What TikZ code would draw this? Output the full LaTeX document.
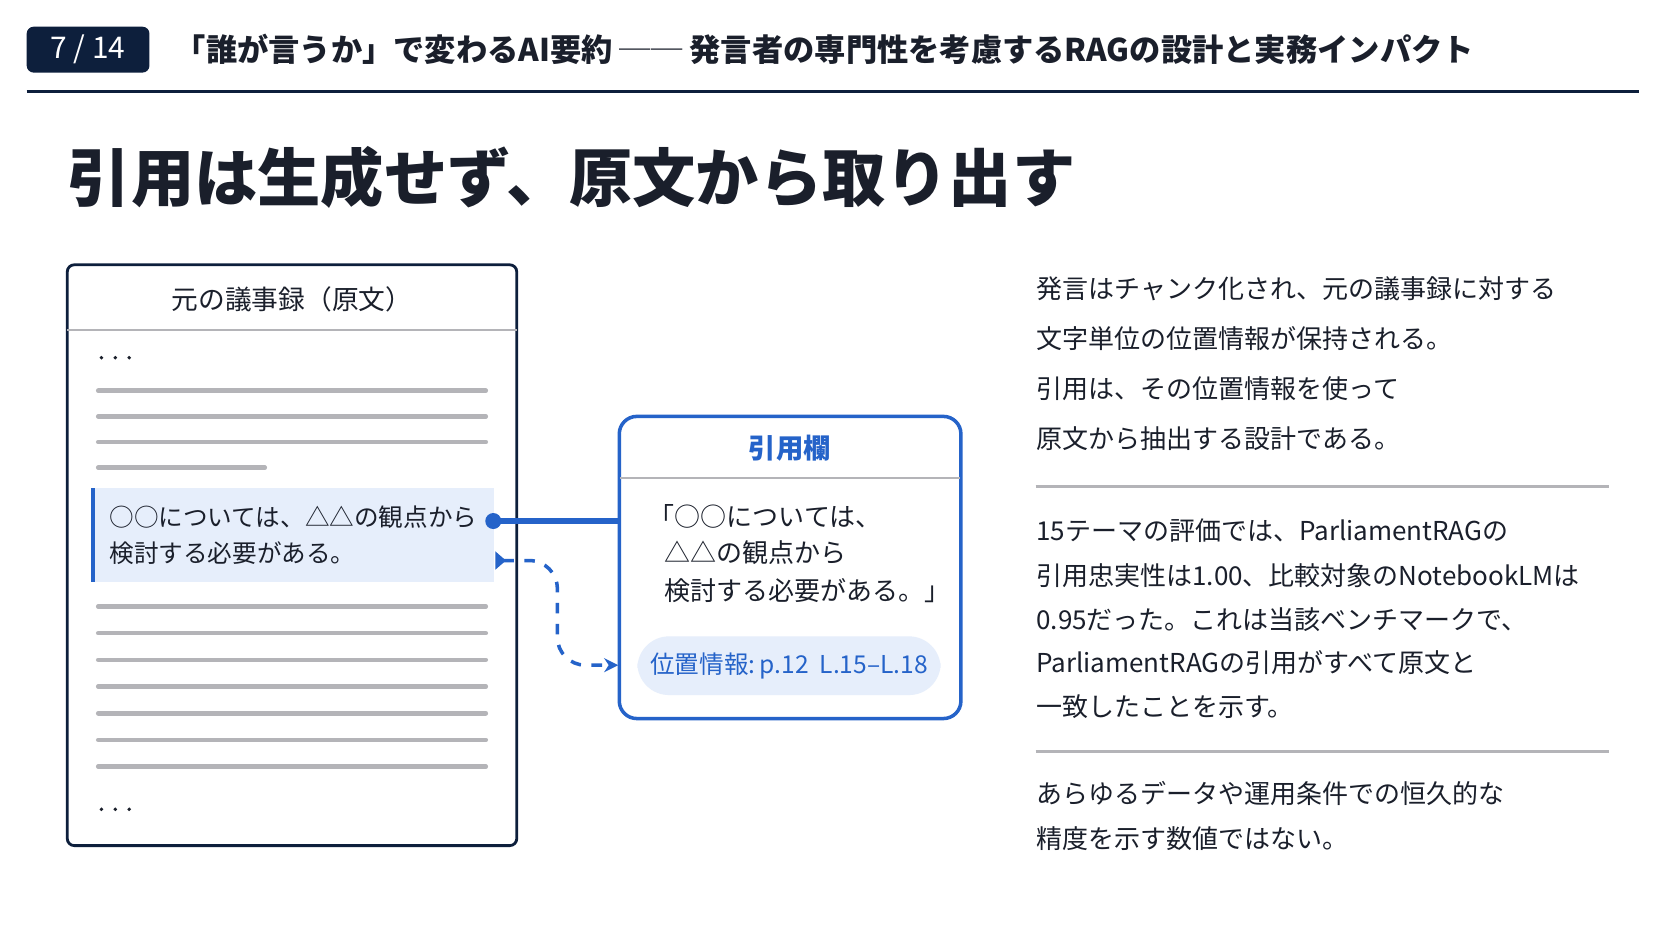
\documentclass[tikz,border=0pt]{standalone}
\usepackage{fontspec}
\setmainfont{Noto Sans CJK JP}
\usetikzlibrary{arrows.meta}
\definecolor{navy}{HTML}{0D1F3C}
\definecolor{blu}{HTML}{2563C9}
\definecolor{lblu}{HTML}{E6EEFB}
\definecolor{gr}{HTML}{B4B4B8}
\definecolor{txt}{HTML}{1A1F2B}
\begin{document}
\begin{tikzpicture}[x=0.010677cm,y=-0.010677cm,
  body/.style={anchor=west,inner sep=0,font=\fontsize{7.4pt}{9pt}\selectfont,text=txt},
  gl/.style={gr,line width=1.3pt,line cap=round}]
\useasboundingbox[fill=white] (0,0) rectangle (1566,881);
% header
\fill[navy,rounded corners=2pt] (25,25) rectangle (140,68);
\node[inner sep=0,text=white,font=\fontsize{8.5pt}{10pt}\selectfont] (badge) at (82.5,46.5) {7 / 14};
\node[anchor=west,inner sep=0,font=\fontsize{8.9pt}{10pt}\selectfont\bfseries,text=txt] (hdr) at (163,46) {「誰が言うか」で変わるAI要約 ── 発言者の専門性を考慮するRAGの設計と実務インパクト};
\draw[navy,line width=0.8pt] (25,86) -- (1535,86);
\node[anchor=west,inner sep=0,font=\fontsize{18pt}{20pt}\selectfont\bfseries,text=txt] (ttl) at (63,166) {引用は生成せず、原文から取り出す};
% document box
\draw[navy,line width=0.8pt,rounded corners=2pt] (63,248) rectangle (484,792);
\node[font=\fontsize{7.6pt}{9pt}\selectfont,text=txt,inner sep=0] (doch) at (273.5,280) {元の議事録（原文）};
\draw[gr,line width=0.6pt] (63,309) -- (484,309);
\foreach \y in {335,758} \foreach \x in {95,108,121} \fill[txt] (\x,\y) circle (1.8);
\foreach \y in {366,390,414} \draw[gl] (92,\y) -- (455,\y);
\draw[gl] (92,438) -- (248,438);
\foreach \y in {568,593,618,643,668,693,718} \draw[gl] (92,\y) -- (455,\y);
\fill[lblu] (85,457) rectangle (463,545);
\fill[blu] (85,457) rectangle (89,545);
\node[body,font=\fontsize{7pt}{9pt}\selectfont] (h1) at (102,484) {○○については、△△の観点から};
\node[body,font=\fontsize{7pt}{9pt}\selectfont] (h2) at (102,518) {検討する必要がある。};
% quote box
\draw[blu,line width=1pt,rounded corners=5pt] (580,390) rectangle (900,673);
\node[font=\fontsize{7.8pt}{9pt}\selectfont\bfseries,text=blu,inner sep=0] (qh) at (740,420) {引用欄};
\draw[gr,line width=0.6pt] (581,448) -- (899,448);
\node[body] (q1) at (607,484) {「○○については、};
\node[body] (q2) at (622,518) {△△の観点から};
\node[body] (q3) at (622,553) {検討する必要がある。」};
\fill[lblu,rounded corners=9pt] (597,596) rectangle (881,651);
\node[inner sep=0,text=blu,font=\fontsize{7pt}{9pt}\selectfont] (pos) at (739,623.5) {位置情報:\,p.12\ \ L.15–L.18};
% connectors
\coordinate (dot) at (462,488);
\coordinate (qin) at (580,488);
\coordinate (ds) at (464,525);
\coordinate (de) at (579,623);
\fill[blu] (dot) circle (7.5);
\draw[blu,line width=1.5pt] (dot) -- (qin);
\draw[blu,line width=1pt,dashed,rounded corners=8pt,{Triangle[reversed,width=5pt,length=3pt]}-{Stealth[width=4pt,length=4pt]}] (ds) -- (522,525) -- (522,623) -- (de);
% right text
\node[body] (r1) at (970,270) {発言はチャンク化され、元の議事録に対する};
\node[body] (r2) at (970,317) {文字単位の位置情報が保持される。};
\node[body] (r3) at (970,364) {引用は、その位置情報を使って};
\node[body] (r4) at (970,411) {原文から抽出する設計である。};
\draw[gr,line width=0.8pt] (970,456) -- (1507,456);
\node[body] (s1) at (970,497) {15テーマの評価では、ParliamentRAGの};
\node[body] (s2) at (970,539) {引用忠実性は1.00、比較対象のNotebookLMは};
\node[body] (s3) at (970,580) {0.95だった。これは当該ベンチマークで、};
\node[body] (s4) at (970,621) {ParliamentRAGの引用がすべて原文と};
\node[body] (s5) at (970,662) {一致したことを示す。};
\draw[gr,line width=0.8pt] (970,704) -- (1507,704);
\node[body] (t1) at (970,743) {あらゆるデータや運用条件での恒久的な};
\node[body] (t2) at (970,785) {精度を示す数値ではない。};
\end{tikzpicture}
\end{document}
